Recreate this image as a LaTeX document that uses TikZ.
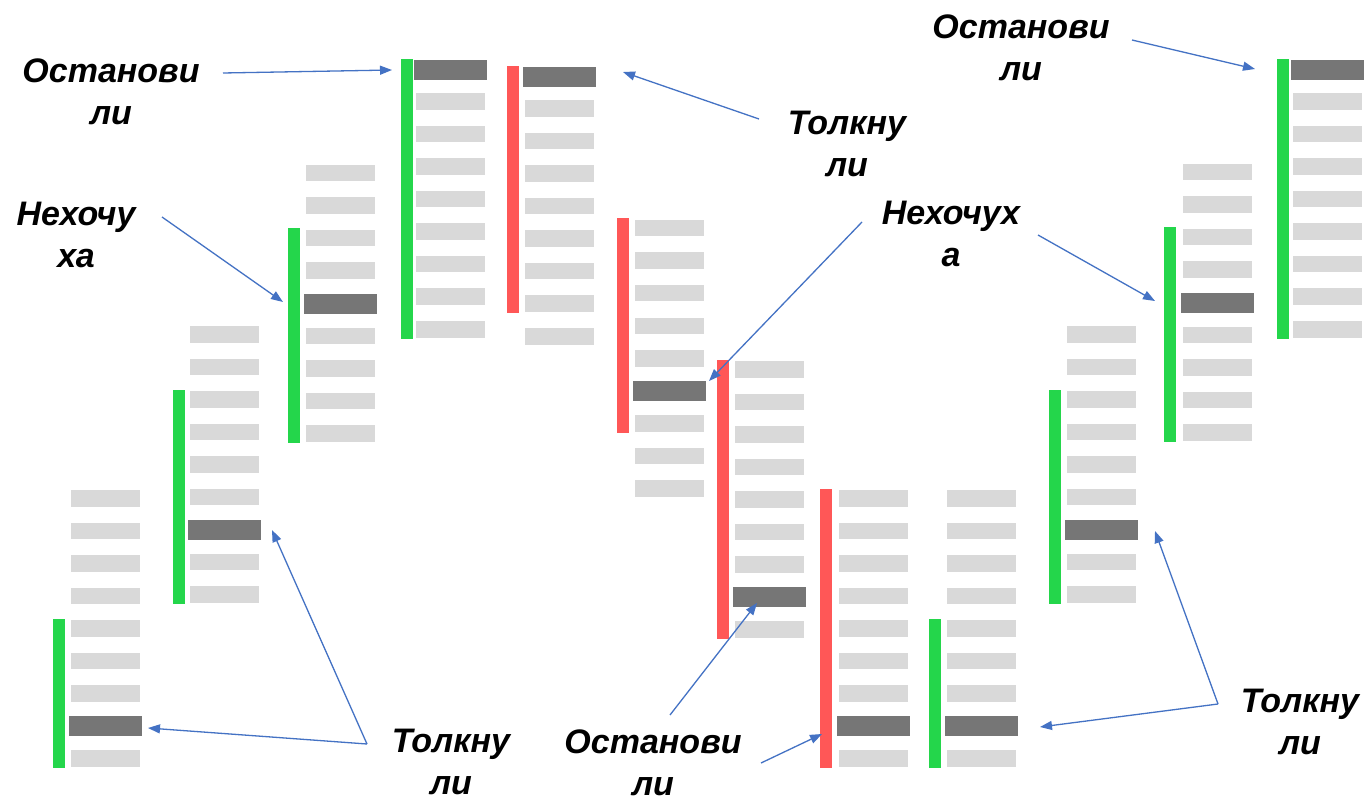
\documentclass[tikz,border=0pt]{standalone}
\usepackage{fontspec}
\setmainfont{Liberation Sans}
\usetikzlibrary{arrows.meta}
\definecolor{lightbar}{HTML}{D9D9D9}
\definecolor{darkbar}{HTML}{767676}
\definecolor{goodbar}{HTML}{24D64B}
\definecolor{badbar}{HTML}{FF5757}
\definecolor{arrowblue}{HTML}{4472C4}
% #1 name, #2 bars x, #3 first bar top, #4 dark index, #5 colour, #6 colour bar x, #7 first, #8 last
\newcommand\barstack[8]{%
  \foreach \i in {0,...,8}{%
    \ifnum\i=#4\relax\else
      \fill[lightbar] (#2,#3+\i*32.5) rectangle ++(69,16.5);
    \fi}%
  \node[darkcell] (#1) at (#2-2,#3+#4*32.5-1.5) {};
  \fill[#5] (#6,#3+#7*32.5-1.5) rectangle (#6+12,#3+#8*32.5+17.5);
}
\begin{document}
\begin{tikzpicture}[x=1pt,y=-1pt,
  darkcell/.style={fill=darkbar,minimum width=73pt,minimum height=20pt,inner sep=0pt,anchor=north west},
  lbl/.style={align=center,inner sep=0pt,font=\bfseries\itshape\fontsize{34}{42}\selectfont},
  arr/.style={draw=arrowblue,line width=1.3pt,-{Triangle[length=12pt,width=9pt]}}]
\useasboundingbox[fill=white] (0,0) rectangle (1365,802);

\barstack{A}{71}{490}{7}{goodbar}{53}{4}{8}
\barstack{B}{190}{326}{6}{goodbar}{173}{2}{8}
\barstack{C}{306}{165}{4}{goodbar}{288}{2}{8}
\barstack{D}{416}{61}{0}{goodbar}{401}{0}{8}
\barstack{E}{525}{68}{0}{badbar}{507}{0}{7}
\barstack{F}{635}{220}{5}{badbar}{617}{0}{6}
\barstack{G}{735}{361}{7}{badbar}{717}{0}{8}
\barstack{H}{839}{490}{7}{badbar}{820}{0}{8}
\barstack{I}{947}{490}{7}{goodbar}{929}{4}{8}
\barstack{J}{1067}{326}{6}{goodbar}{1049}{2}{8}
\barstack{K}{1183}{164}{4}{goodbar}{1164}{2}{8}
\barstack{L}{1293}{61}{0}{goodbar}{1277}{0}{8}

% labels
\node[lbl] (l1) at (111,92) {Останови\\ли};
\node[lbl] (l2) at (76,235) {Нехочу\\ха};
\node[lbl] (l3) at (847,144) {Толкну\\ли};
\node[lbl] (l4) at (951,234) {Нехочух\\а};
\node[lbl] (l5) at (1021,48) {Останови\\ли};
\node[lbl] (l6) at (451,762) {Толкну\\ли};
\node[lbl] (l7) at (653,763) {Останови\\ли};
\node[lbl] (l8) at (1300,722) {Толкну\\ли};

% arrow end points
\coordinate (s1) at (223,73);   \coordinate (t1) at (392,70);
\coordinate (s2) at (162,217);  \coordinate (t2) at (283,302);
\coordinate (s3) at (759,119);  \coordinate (t3) at (623,72);
\coordinate (s4) at (862,222);  \coordinate (t4) at (709,381);
\coordinate (s5) at (1132,40);  \coordinate (t5) at (1255,69);
\coordinate (s6) at (1038,235); \coordinate (t6) at (1155,301);
\coordinate (s7) at (367,744);  \coordinate (t7a) at (148,728); \coordinate (t7b) at (272,530);
\coordinate (s8a) at (670,715); \coordinate (t8a) at (757,603);
\coordinate (s8b) at (761,763); \coordinate (t8b) at (822,734);
\coordinate (s9) at (1218,704); \coordinate (t9a) at (1155,531); \coordinate (t9b) at (1040,727);

\draw[arr] (s1) -- (t1);
\draw[arr] (s2) -- (t2);
\draw[arr] (s3) -- (t3);
\draw[arr] (s4) -- (t4);
\draw[arr] (s5) -- (t5);
\draw[arr] (s6) -- (t6);
\draw[arr] (s7) -- (t7a);
\draw[arr] (s7) -- (t7b);
\draw[arr] (s8a) -- (t8a);
\draw[arr] (s8b) -- (t8b);
\draw[arr] (s9) -- (t9a);
\draw[arr] (s9) -- (t9b);
\end{tikzpicture}
\end{document}
